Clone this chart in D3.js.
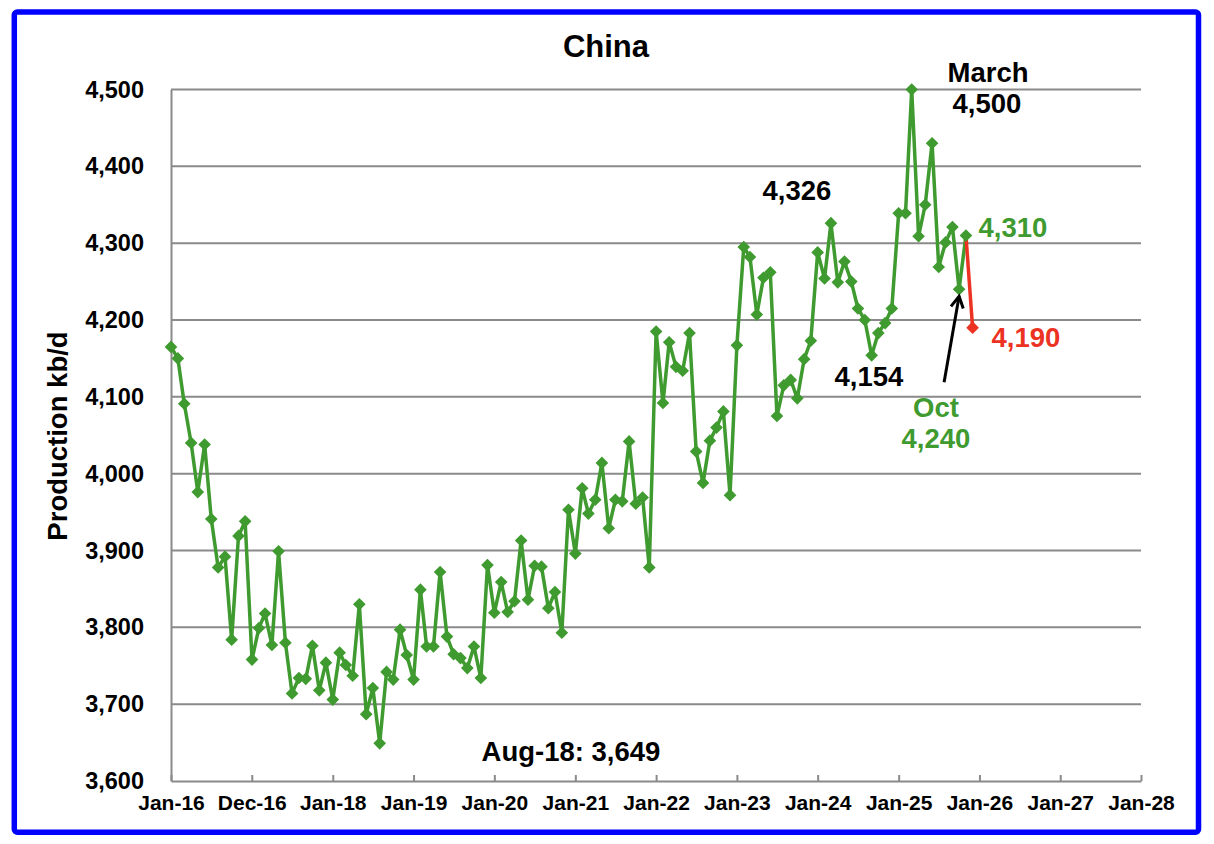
<!DOCTYPE html>
<html>
<head>
<meta charset="utf-8">
<script src="https://cdn.jsdelivr.net/npm/d3@7"></script>
<style>
  html, body { margin: 0; padding: 0; background: #fff; }
  svg { display: block; font-family: "Liberation Sans", Arial, sans-serif; font-weight: bold; }
</style>
</head>
<body>
<svg id="chart" width="1214" height="844"></svg>
<script>
// ---- data (kb/d, monthly, starting Jan-2016) ----
const prod2016 = [4165, 4150, 4091, 4040, 3976, 4038, 3941, 3878, 3892, 3784, 3919, 3938];
const prod2017 = [3758, 3799, 3818, 3777, 3899, 3780, 3714, 3734, 3733, 3776, 3718, 3754];
const prod2018 = [3706, 3767, 3751, 3737, 3830, 3687, 3721, 3649, 3742, 3732, 3797, 3764];
const prod2019 = [3732, 3849, 3775, 3775, 3872, 3788, 3765, 3760, 3747, 3775, 3734, 3881];
const prod2020 = [3819, 3859, 3820, 3834, 3913, 3836, 3880, 3879, 3825, 3846, 3793, 3953];
const prod2021 = [3896, 3981, 3948, 3966, 4014, 3929, 3966, 3964, 4042, 3961, 3969, 3878];
const prod2022 = [4185, 4092, 4171, 4139, 4134, 4183, 4029, 3988, 4043, 4060, 4081, 3972];
const prod2023 = [4167, 4295, 4282, 4207, 4255, 4262, 4075, 4115, 4122, 4098, 4149, 4173];
const prod2024 = [4288, 4254, 4326, 4249, 4276, 4250, 4215, 4200, 4154, 4183, 4196, 4215];
const prod2025 = [4339, 4339, 4500, 4309, 4350, 4430, 4269, 4301, 4321, 4240, 4310];
const estimateMonth = "2025-12";
const estimateValue = 4190;

const yTicks = [3600, 3700, 3800, 3900, 4000, 4100, 4200, 4300, 4400, 4500];
const xTickDates = ["2016-01-01", "2016-12-31", "2018-01-01", "2019-01-01", "2020-01-01", "2021-01-01",
                    "2022-01-01", "2023-01-01", "2024-01-01", "2025-01-01", "2026-01-01", "2027-01-01", "2028-01-01"];
const xTickLabels = ["Jan-16", "Dec-16", "Jan-18", "Jan-19", "Jan-20", "Jan-21", "Jan-22",
                     "Jan-23", "Jan-24", "Jan-25", "Jan-26", "Jan-27", "Jan-28"];

// ---- build series ----
const allValues = [].concat(prod2016, prod2017, prod2018, prod2019, prod2020,
                            prod2021, prod2022, prod2023, prod2024, prod2025);
const startDate = new Date(2016, 0, 1);
const series = allValues.map((v, i) => ({ date: d3.timeMonth.offset(startDate, i), value: v }));
const parseMonth = d3.timeParse("%Y-%m");
const parseDay = d3.timeParse("%Y-%m-%d");
const lastGreen = series[series.length - 1];
const estimate = { date: parseMonth(estimateMonth), value: estimateValue };

// ---- layout ----
const svg = d3.select("#chart");
const W = 1214, H = 844;
const plot = { left: 171, right: 1141, top: 89.5, bottom: 781 };
const GREEN = "#3f9a2f", RED = "#ec3323", GRID = "#8a8a8a";
const FONT = "'Liberation Sans', Arial, sans-serif";

const x = d3.scaleTime()
  .domain([parseDay("2016-01-01"), parseDay("2028-01-01")])
  .range([plot.left, plot.right]);
const y = d3.scaleLinear().domain([3600, 4500]).range([plot.bottom, plot.top]);

// background + border
svg.append("rect").attr("x", 0).attr("y", 0).attr("width", W).attr("height", H).attr("fill", "#fff");
svg.append("rect")
  .attr("x", 14.3).attr("y", 12).attr("width", 1184.2).attr("height", 820.3)
  .attr("rx", 3).attr("ry", 3)
  .attr("fill", "none").attr("stroke", "#0000ff").attr("stroke-width", 5.5);

// gridlines
svg.append("g").selectAll("line").data(yTicks.filter(t => t > 3600)).join("line")
  .attr("x1", plot.left).attr("x2", plot.right)
  .attr("y1", d => y(d)).attr("y2", d => y(d))
  .attr("stroke", GRID).attr("stroke-width", 2);

// y axis
const yAxis = d3.axisLeft(y).tickValues(yTicks).tickSize(0).tickPadding(27)
  .tickFormat(d3.format(","));
const gy = svg.append("g").attr("transform", `translate(${plot.left},0)`).call(yAxis);
gy.select(".domain").attr("stroke", GRID).attr("stroke-width", 2);
gy.selectAll("text").attr("font-size", 23.5).attr("fill", "#000")
  .attr("font-family", FONT).attr("font-weight", "bold");

// x axis
const xAxis = d3.axisBottom(x).tickValues(xTickDates.map(parseDay)).tickSizeInner(-6).tickSizeOuter(0)
  .tickPadding(14)
  .tickFormat((d, i) => xTickLabels[i]);
const gx = svg.append("g").attr("transform", `translate(0,${plot.bottom})`).call(xAxis);
gx.select(".domain").attr("stroke", GRID).attr("stroke-width", 2);
gx.selectAll(".tick line").attr("stroke", GRID).attr("stroke-width", 2);
gx.selectAll("text").attr("font-size", 21).attr("fill", "#000")
  .attr("font-family", FONT).attr("font-weight", "bold");

// series line
const line = d3.line().x(d => x(d.date)).y(d => y(d.value));
svg.append("path").datum(series)
  .attr("d", line).attr("fill", "none").attr("stroke", GREEN)
  .attr("stroke-width", 3.5).attr("stroke-linejoin", "round");
svg.append("path").datum([lastGreen, estimate])
  .attr("d", line).attr("fill", "none").attr("stroke", RED).attr("stroke-width", 3.5);

const diamond = d3.symbol(d3.symbolSquare, 80);
svg.append("g").selectAll("path").data(series).join("path")
  .attr("d", diamond)
  .attr("transform", d => `translate(${x(d.date)},${y(d.value)}) rotate(45)`)
  .attr("fill", GREEN);
svg.append("path").attr("d", diamond)
  .attr("transform", `translate(${x(estimate.date)},${y(estimate.value)}) rotate(45)`)
  .attr("fill", RED);

// title
svg.append("text").attr("x", 606).attr("y", 57).attr("text-anchor", "middle")
  .attr("font-size", 31).attr("fill", "#000").text("China");

// y label
svg.append("text").attr("transform", "translate(67,436) rotate(-90)")
  .attr("text-anchor", "middle").attr("font-size", 27.5).attr("fill", "#000")
  .text("Production kb/d");

// annotations
const notes = [
  { t: "March", cx: 988, by: 82, c: "#000" },
  { t: "4,500", cx: 987, by: 113, c: "#000" },
  { t: "4,326", cx: 797, by: 200, c: "#000" },
  { t: "4,310", cx: 1013, by: 237, c: GREEN },
  { t: "4,190", cx: 1026, by: 347, c: RED },
  { t: "4,154", cx: 869, by: 386, c: "#000" },
  { t: "Oct", cx: 936, by: 417, c: GREEN },
  { t: "4,240", cx: 936, by: 448, c: GREEN },
  { t: "Aug-18: 3,649", cx: 571, by: 761, c: "#000" }
];
svg.append("g").selectAll("text").data(notes).join("text")
  .attr("x", d => d.cx).attr("y", d => d.by).attr("text-anchor", "middle")
  .attr("font-size", 27.5).attr("fill", d => d.c).text(d => d.t);

// arrow pointing to Oct point
const octPoint = series[series.length - 2];
const tipX = x(octPoint.date), tipY = y(octPoint.value) + 7;
const tailX = tipX - 15, tailY = tipY + 86;
svg.append("line").attr("x1", tailX).attr("y1", tailY).attr("x2", tipX).attr("y2", tipY)
  .attr("stroke", "#000").attr("stroke-width", 3);
const ang = Math.atan2(tipY - tailY, tipX - tailX);
const ah = 13, spread = 0.5;
const p1 = [tipX - ah * Math.cos(ang - spread), tipY - ah * Math.sin(ang - spread)];
const p2 = [tipX - ah * Math.cos(ang + spread), tipY - ah * Math.sin(ang + spread)];
svg.append("path").attr("d", `M${p1[0]},${p1[1]} L${tipX},${tipY} L${p2[0]},${p2[1]}`)
  .attr("fill", "none").attr("stroke", "#000").attr("stroke-width", 3).attr("stroke-linejoin", "miter");
</script>
</body>
</html>
